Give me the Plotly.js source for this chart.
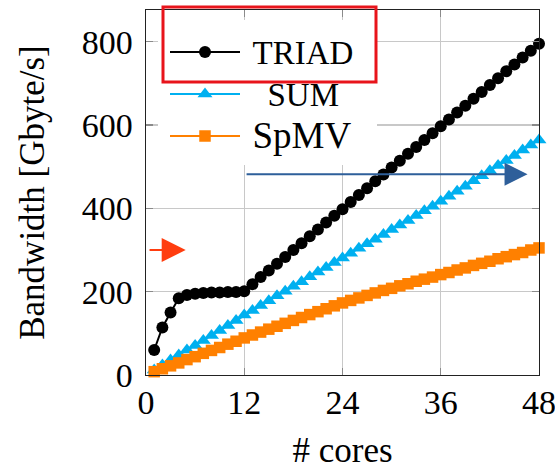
<!DOCTYPE html>
<html>
<head>
<meta charset="utf-8">
<script src="https://cdn.plot.ly/plotly-3.0.1.min.js"></script>
<style>
  html, body { margin: 0; padding: 0; background: #ffffff; }
  #chart { width: 555px; height: 470px; }
</style>
</head>
<body>
<div id="chart"></div>
<script>
// ---- data ----
const cores = [1,2,3,4,5,6,7,8,9,10,11,12,13,14,15,16,17,18,19,20,21,22,23,24,
               25,26,27,28,29,30,31,32,33,34,35,36,37,38,39,40,41,42,43,44,45,46,47,48];
const triad = [60,114,150,184,192,195,197,198,198,199,199,201,218,235,251,267,283,300,316,333,349,366,382,398,
               415,432,448,465,481,498,514,531,547,564,580,597,613,630,646,663,679,696,712,729,745,762,778,795];
const sum   = [12,24,36,48,60,71,83,95,107,119,131,144,155,167,178,190,201,213,224,236,247,258,270,281,
               292,304,315,326,337,349,360,371,383,394,405,417,429,441,453,466,478,490,503,515,527,540,552,564];
const spmv  = [8,15,22,29,37,44,52,59,66,74,81,89,96,103,110,117,124,131,138,145,152,159,166,173,
               179,185,191,197,203,208,214,219,225,230,235,241,246,252,257,263,268,273,279,284,289,294,300,305];
const seriesNames = ['TRIAD', 'SUM', 'SpMV'];
const xTicks = [0, 12, 24, 36, 48];
const yTicks = [0, 200, 400, 600, 800];
// reference arrows (value level, start core, tip core)
const redArrow  = {y: 300, x0: 0.25, x1: 4.85};
const blueArrow = {y: 482, x0: 12.1, x1: 46.6};

const FONT = '"Liberation Serif", "Times New Roman", serif';
const NB = '\u00a0';

function legendName(name, size, pad) {
  return NB.repeat(pad) + '<span style="font-size:' + size + 'px">' + name + '</span>';
}

const traces = [
  {x: cores, y: triad, name: legendName(seriesNames[0], 33, 1),
   type: 'scatter', mode: 'lines+markers',
   line: {color: '#000000', width: 2}, marker: {symbol: 'circle', size: 12, color: '#000000'},
   cliponaxis: false},
  {x: cores, y: sum, name: legendName(seriesNames[1], 33, 3),
   type: 'scatter', mode: 'lines+markers',
   line: {color: '#00b0f0', width: 2}, marker: {symbol: 'triangle-up', size: 13, color: '#00b0f0'},
   cliponaxis: false},
  {x: cores, y: spmv, name: legendName(seriesNames[2], 37, 1),
   type: 'scatter', mode: 'lines+markers',
   line: {color: '#ff8000', width: 2}, marker: {symbol: 'square', size: 11.5, color: '#ff8000'},
   cliponaxis: false}
];

const W = 393, H = 365; // plot area size in px
function px(xp) { return (xp - 146) / W; }
function py(yp) { return (375 - yp) / H; }

const layout = {
  width: 555, height: 470,
  margin: {l: 146, r: 16, t: 10, b: 95, pad: 0},
  paper_bgcolor: '#ffffff', plot_bgcolor: '#ffffff',
  font: {family: FONT, size: 34, color: '#000000'},
  showlegend: true,
  legend: {
    x: px(165), y: py(26), xanchor: 'left', yanchor: 'top',
    bgcolor: 'rgba(0,0,0,0)', borderwidth: 0,
    font: {family: FONT, size: 30, color: '#000000'},
    itemwidth: 70, traceorder: 'normal'
  },
  xaxis: {
    range: [0, 48], tickvals: xTicks, ticktext: xTicks.map(String),
    showgrid: true, gridcolor: '#c8c8c8', gridwidth: 1.2,
    zeroline: false, showline: true, linecolor: '#222222', linewidth: 1.4, mirror: 'all',
    ticks: 'inside', ticklen: 7, tickcolor: '#8a8a8a', tickwidth: 1.2,
    tickfont: {family: FONT, size: 34, color: '#000000'},
    ticklabelstandoff: -3, ticklabeloverflow: 'allow',
    title: {text: '# cores', font: {family: FONT, size: 35, color: '#000000'}, standoff: 30}
  },
  yaxis: {
    range: [0, 876], tickvals: yTicks, ticktext: yTicks.map(String),
    showgrid: true, gridcolor: '#c8c8c8', gridwidth: 1.2,
    zeroline: false, showline: true, linecolor: '#222222', linewidth: 1.4, mirror: 'all',
    ticks: 'inside', ticklen: 7, tickcolor: '#8a8a8a', tickwidth: 1.2,
    tickfont: {family: FONT, size: 34, color: '#000000'},
    ticklabelstandoff: 5,
    title: {text: 'Bandwidth [Gbyte/s]', font: {family: FONT, size: 35, color: '#000000'}, standoff: 26}
  },
  shapes: [
    // white backdrop behind the legend
    {type: 'rect', xref: 'paper', yref: 'paper', layer: 'above',
     x0: px(158), x1: px(377), y0: py(165), y1: py(20),
     fillcolor: '#ffffff', line: {width: 0}},
    // red highlight box around the TRIAD legend entry
    {type: 'rect', xref: 'paper', yref: 'paper', layer: 'above',
     x0: px(163), x1: px(376), y0: py(82), y1: py(7),
     fillcolor: 'rgba(0,0,0,0)', line: {color: '#e8141b', width: 3}}
  ],
  annotations: [
    {x: redArrow.x1, y: redArrow.y, ax: redArrow.x0, ay: redArrow.y,
     xref: 'x', yref: 'y', axref: 'x', ayref: 'y', text: '', showarrow: true,
     arrowhead: 2, arrowsize: 2.4, arrowwidth: 2, arrowcolor: '#ff3d0f', font: {size: 1}},
    {x: blueArrow.x1, y: blueArrow.y, ax: blueArrow.x0, ay: blueArrow.y,
     xref: 'x', yref: 'y', axref: 'x', ayref: 'y', text: '', showarrow: true,
     arrowhead: 2, arrowsize: 2.3, arrowwidth: 2, arrowcolor: '#2e5f9a', font: {size: 1}}
  ]
};

Plotly.newPlot('chart', traces, layout, {staticPlot: true, displayModeBar: false});
</script>
</body>
</html>
